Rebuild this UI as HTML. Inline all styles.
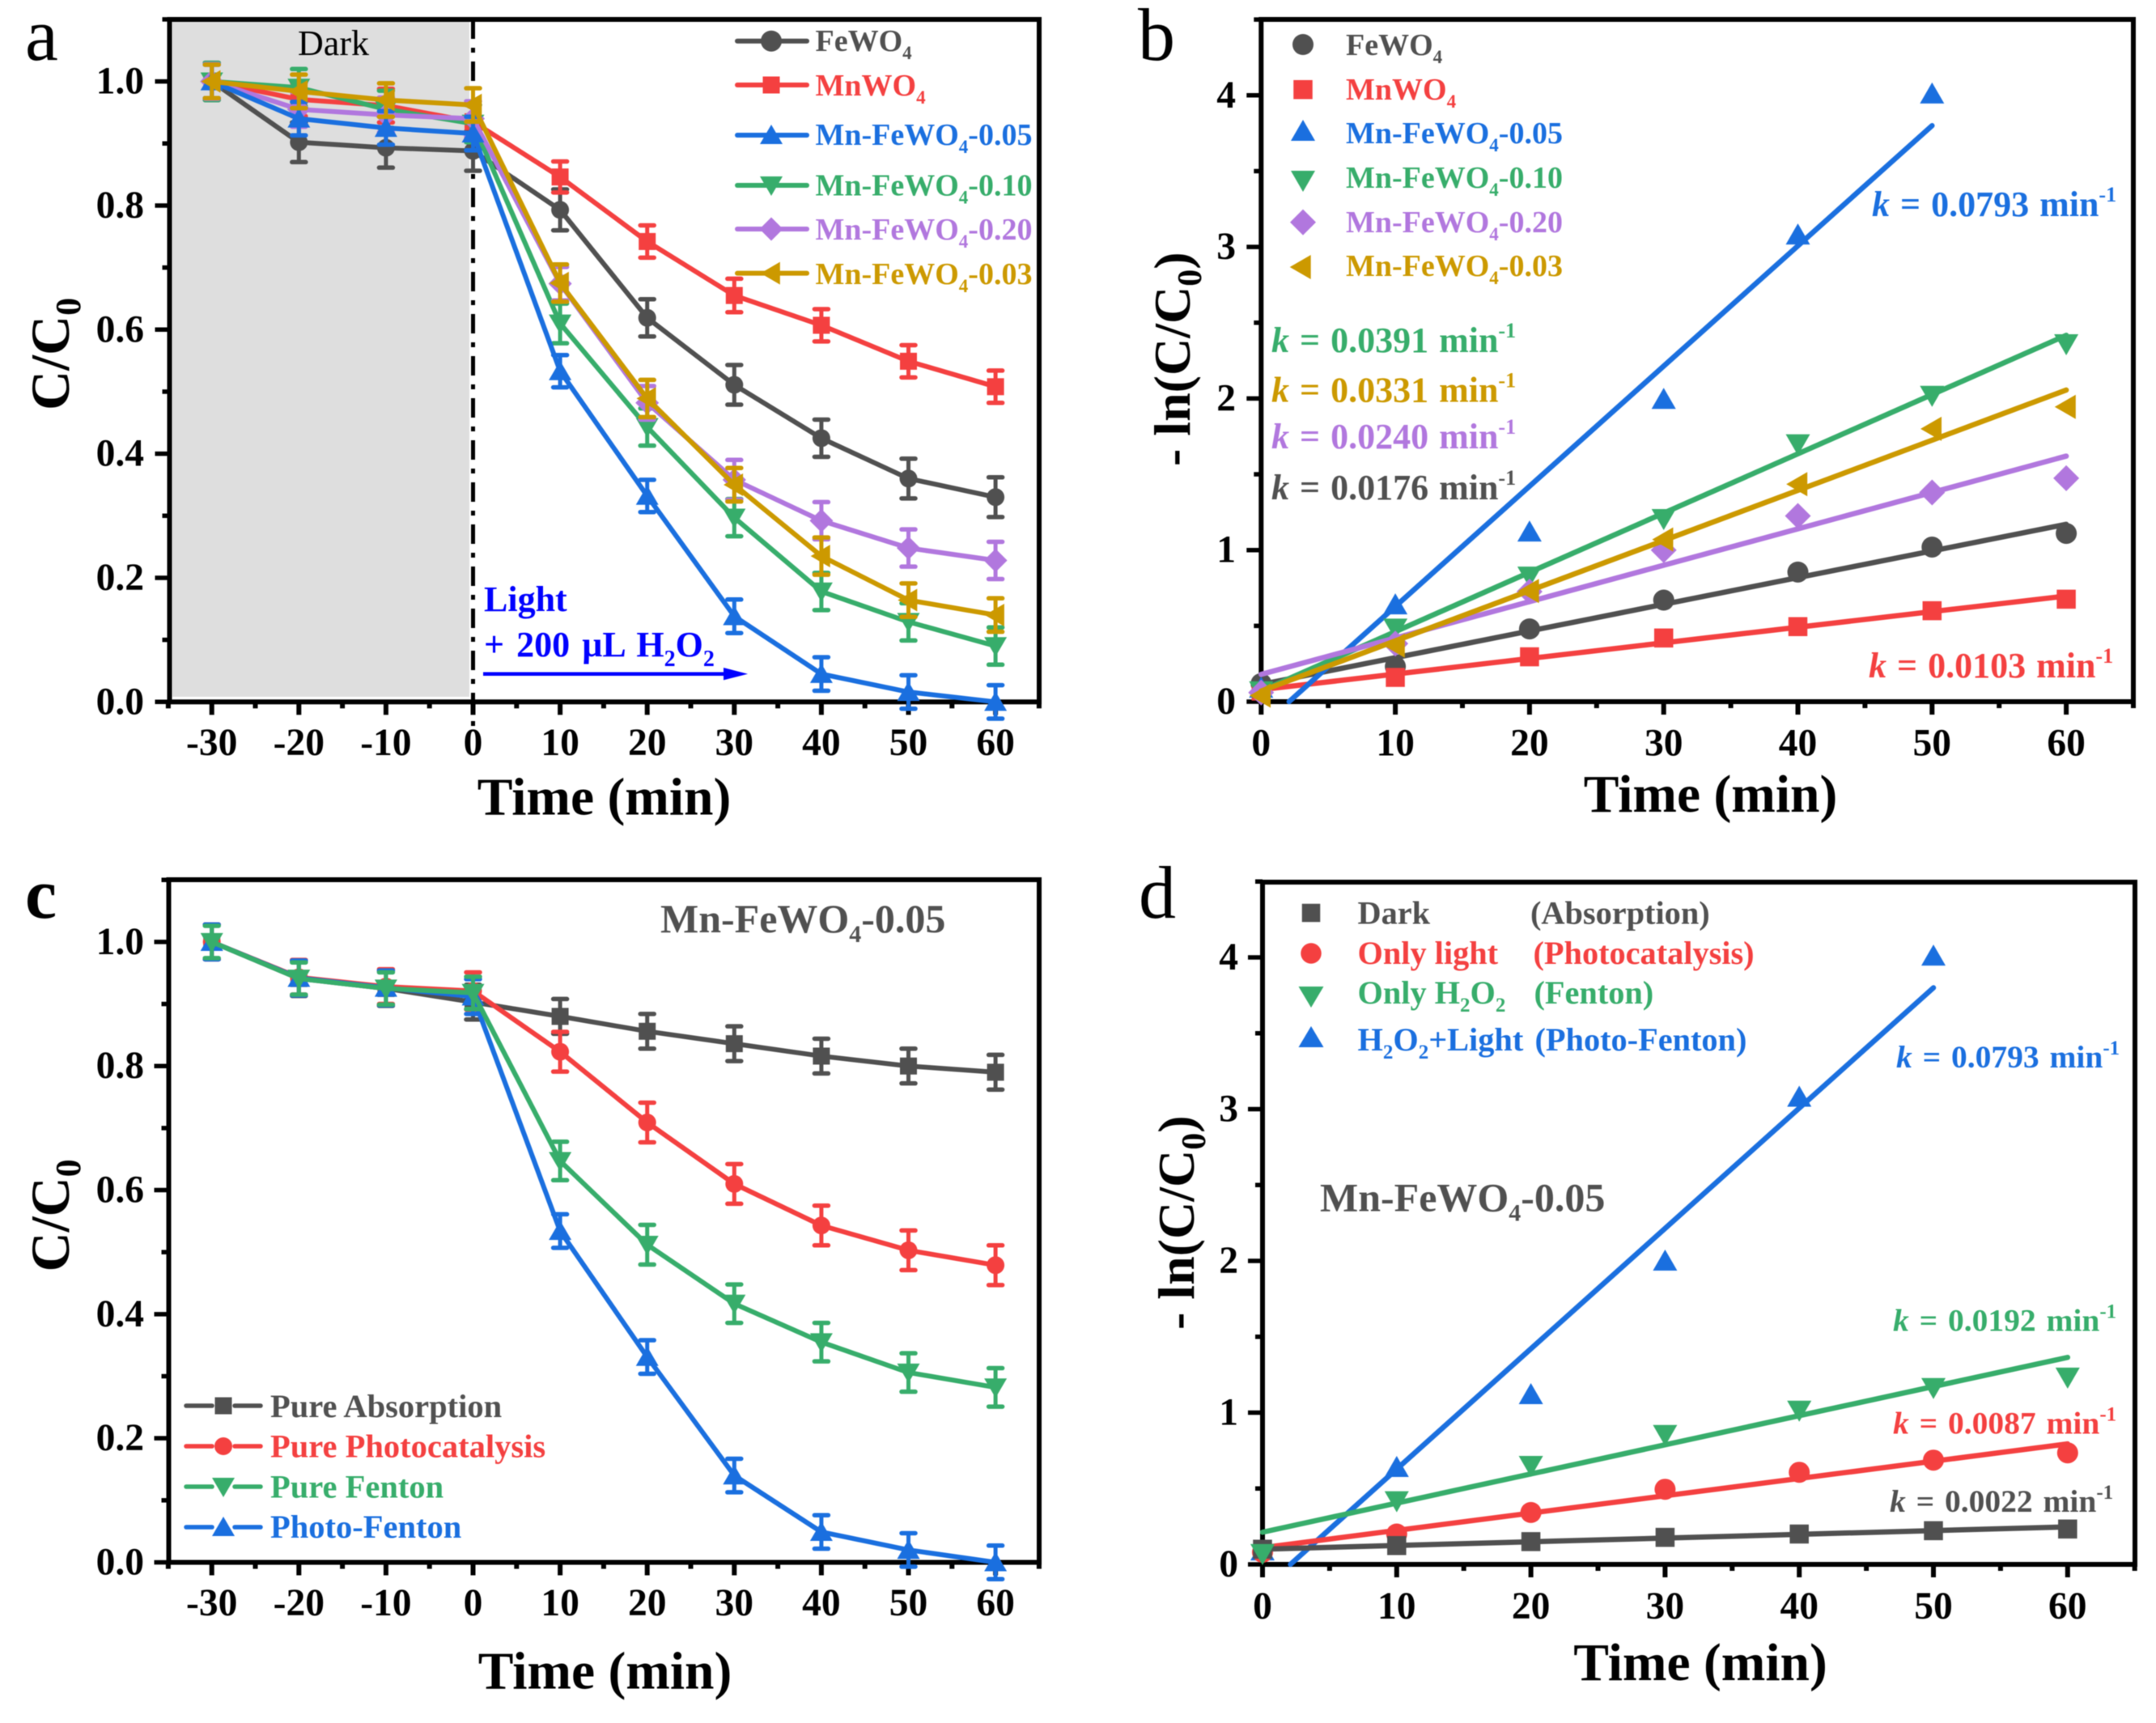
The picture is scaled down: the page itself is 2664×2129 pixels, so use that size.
<!DOCTYPE html>
<html lang="en">
<head>
<meta charset="utf-8">
<title>Photo-Fenton degradation kinetics</title>
<style>
html,body{margin:0;padding:0;background:#fff;}
svg{display:block;filter:blur(0.6px);}
text{font-family:"Liberation Serif",serif;}
.b{font-weight:700;}
.bi{font-weight:700;font-style:italic;}
</style>
</head>
<body>
<svg id="figure" xmlns="http://www.w3.org/2000/svg" width="2664" height="2129" viewBox="0 0 2664 2129">
<rect x="0" y="0" width="2664" height="2129" fill="#fff"/>

<rect x="213" y="27" width="367" height="834" fill="#dedede"/>

<g id="panel-a"></g>
<g id="panel-b"></g>
<g id="panel-c"></g>
<g id="panel-d"></g>

<!-- Panel letters -->
<text x="31" y="74" font-size="92">a</text>
<text x="1406" y="74" font-size="92">b</text>
<text x="31" y="1134" font-size="88" class="b">c</text>
<text x="1407" y="1134" font-size="92">d</text>

<!-- Panel a text -->
<text x="412" y="68" font-size="44" text-anchor="middle">Dark</text>
<text x="598" y="755" font-size="44" class="b" fill="#0000ff">Light</text>
<text x="598" y="811" font-size="44" class="b" fill="#0000ff" word-spacing="4">+ 200 µL H<tspan dy="12" font-size="28">2</tspan><tspan dy="-12">O</tspan><tspan dy="12" font-size="28">2</tspan></text>
<line x1="597" y1="832.7" x2="897" y2="832.7" stroke="#0000ff" stroke-width="4.5"/>
<polygon points="894,825 924,832.7 894,840.4" fill="#0000ff"/>
<text x="746.5" y="1006.7" font-size="65.5" class="b" text-anchor="middle">Time (min)</text>
<text transform="translate(85,507) rotate(-90)" font-size="68" class="b">C/C<tspan dy="14" font-size="44">0</tspan></text>

<g font-size="38" class="b">
<text x="1007.5" y="63" fill="#505050">FeWO<tspan dy="10" font-size="23">4</tspan></text>
<text x="1007.5" y="118" fill="#f44040">MnWO<tspan dy="10" font-size="23">4</tspan></text>
<text x="1007.5" y="179" fill="#1a6fdf">Mn-FeWO<tspan dy="10" font-size="23">4</tspan><tspan dy="-10">-0.05</tspan></text>
<text x="1007.5" y="241.5" fill="#37ad6b">Mn-FeWO<tspan dy="10" font-size="23">4</tspan><tspan dy="-10">-0.10</tspan></text>
<text x="1007.5" y="296" fill="#b177de">Mn-FeWO<tspan dy="10" font-size="23">4</tspan><tspan dy="-10">-0.20</tspan></text>
<text x="1007.5" y="351" fill="#cc9900">Mn-FeWO<tspan dy="10" font-size="23">4</tspan><tspan dy="-10">-0.03</tspan></text>
</g>

<!-- Panel b text -->
<text x="2113.5" y="1003" font-size="65.5" class="b" text-anchor="middle">Time (min)</text>
<text transform="translate(1470,576) rotate(-90)" font-size="64" class="b">- ln(C/C<tspan dy="14" font-size="42">0</tspan><tspan dy="-14">)</tspan></text>
<g font-size="38" class="b">
<text x="1663" y="68" fill="#505050">FeWO<tspan dy="10" font-size="23">4</tspan></text>
<text x="1663" y="123" fill="#f44040">MnWO<tspan dy="10" font-size="23">4</tspan></text>
<text x="1663" y="177" fill="#1a6fdf">Mn-FeWO<tspan dy="10" font-size="23">4</tspan><tspan dy="-10">-0.05</tspan></text>
<text x="1663" y="232" fill="#37ad6b">Mn-FeWO<tspan dy="10" font-size="23">4</tspan><tspan dy="-10">-0.10</tspan></text>
<text x="1663" y="287" fill="#b177de">Mn-FeWO<tspan dy="10" font-size="23">4</tspan><tspan dy="-10">-0.20</tspan></text>
<text x="1663" y="341" fill="#cc9900">Mn-FeWO<tspan dy="10" font-size="23">4</tspan><tspan dy="-10">-0.03</tspan></text>
</g>
<g font-size="44" class="b" word-spacing="2">
<text x="2313" y="267" fill="#1a6fdf"><tspan class="bi">k</tspan> = 0.0793 min<tspan dy="-18" font-size="26">-1</tspan></text>
<text x="1571" y="435" fill="#37ad6b"><tspan class="bi">k</tspan> = 0.0391 min<tspan dy="-18" font-size="26">-1</tspan></text>
<text x="1571" y="496.7" fill="#cc9900"><tspan class="bi">k</tspan> = 0.0331 min<tspan dy="-18" font-size="26">-1</tspan></text>
<text x="1571" y="554" fill="#b177de"><tspan class="bi">k</tspan> = 0.0240 min<tspan dy="-18" font-size="26">-1</tspan></text>
<text x="1571" y="617" fill="#505050"><tspan class="bi">k</tspan> = 0.0176 min<tspan dy="-18" font-size="26">-1</tspan></text>
<text x="2309" y="837" fill="#f44040"><tspan class="bi">k</tspan> = 0.0103 min<tspan dy="-18" font-size="26">-1</tspan></text>
</g>

<!-- Panel c text -->
<text x="816" y="1152" font-size="50" class="b" fill="#505050">Mn-FeWO<tspan dy="12" font-size="30">4</tspan><tspan dy="-12">-0.05</tspan></text>
<text x="747.5" y="2086.6" font-size="65.5" class="b" text-anchor="middle">Time (min)</text>
<text transform="translate(85,1571.5) rotate(-90)" font-size="68" class="b">C/C<tspan dy="14" font-size="44">0</tspan></text>
<g font-size="40.5" class="b">
<text x="334" y="1751" fill="#505050">Pure Absorption</text>
<text x="334" y="1800.7" fill="#f44040">Pure Photocatalysis</text>
<text x="334" y="1850.7" fill="#37ad6b">Pure Fenton</text>
<text x="334" y="1900" fill="#1a6fdf">Photo-Fenton</text>
</g>

<!-- Panel d text -->
<text x="1631" y="1496.5" font-size="50" class="b" fill="#505050">Mn-FeWO<tspan dy="12" font-size="30">4</tspan><tspan dy="-12">-0.05</tspan></text>
<text x="2101" y="2076" font-size="65.5" class="b" text-anchor="middle">Time (min)</text>
<text transform="translate(1475,1643) rotate(-90)" font-size="64" class="b">- ln(C/C<tspan dy="14" font-size="42">0</tspan><tspan dy="-14">)</tspan></text>
<g font-size="40.3" class="b">
<text x="1677.5" y="1141.7" fill="#505050">Dark</text>
<text x="1891" y="1141.7" fill="#505050">(Absorption)</text>
<text x="1677.5" y="1191" fill="#f44040">Only light</text>
<text x="1894.5" y="1191" fill="#f44040">(Photocatalysis)</text>
<text x="1677.5" y="1240" fill="#37ad6b">Only H<tspan dy="10" font-size="25">2</tspan><tspan dy="-10">O</tspan><tspan dy="10" font-size="25">2</tspan></text>
<text x="1895.5" y="1240" fill="#37ad6b">(Fenton)</text>
<text x="1677.5" y="1298" fill="#1a6fdf">H<tspan dy="10" font-size="25">2</tspan><tspan dy="-10">O</tspan><tspan dy="10" font-size="25">2</tspan><tspan dy="-10">+Light</tspan></text>
<text x="1896.5" y="1298" fill="#1a6fdf">(Photo-Fenton)</text>
</g>
<g font-size="39.5" class="b" word-spacing="3">
<text x="2343" y="1319" fill="#1a6fdf"><tspan class="bi">k</tspan> = 0.0793 min<tspan dy="-16" font-size="25">-1</tspan></text>
<text x="2339" y="1644.6" fill="#37ad6b"><tspan class="bi">k</tspan> = 0.0192 min<tspan dy="-16" font-size="25">-1</tspan></text>
<text x="2339" y="1771.5" fill="#f44040"><tspan class="bi">k</tspan> = 0.0087 min<tspan dy="-16" font-size="25">-1</tspan></text>
<text x="2335" y="1868" fill="#505050"><tspan class="bi">k</tspan> = 0.0022 min<tspan dy="-16" font-size="25">-1</tspan></text>
</g>
</svg>

<script>
/* ---------- Shared tick values ---------- */
const concXTicks = [-30, -20, -10, 0, 10, 20, 30, 40, 50, 60];
const concXMinor = [-35, -25, -15, -5, 5, 15, 25, 35, 45, 55, 65];
const concYTicks = [0, 0.2, 0.4, 0.6, 0.8, 1.0];
const concYLabels = ['0.0', '0.2', '0.4', '0.6', '0.8', '1.0'];
const concYMinor = [0.1, 0.3, 0.5, 0.7, 0.9, 1.1];
const kinXTicks = [0, 10, 20, 30, 40, 50, 60];
const kinXMinor = [5, 15, 25, 35, 45, 55, 65];
const kinYTicks = [0, 1, 2, 3, 4];
const kinYMinor = [0.5, 1.5, 2.5, 3.5, 4.5];

/* ---------- Panel a data: C/C0 ---------- */
const aTimes = [-30, -20, -10, 0, 10, 20, 30, 40, 50, 60];
const aFeWO4 = [1.0, 0.902, 0.893, 0.888, 0.793, 0.619, 0.511, 0.425, 0.36, 0.33];
const aMnWO4 = [1.0, 0.971, 0.961, 0.935, 0.846, 0.742, 0.655, 0.607, 0.549, 0.508];
const aMn005 = [1.0, 0.94, 0.925, 0.916, 0.533, 0.332, 0.138, 0.045, 0.016, 0.0];
const aMn010 = [1.0, 0.99, 0.955, 0.932, 0.61, 0.443, 0.297, 0.178, 0.129, 0.09];
const aMn020 = [1.0, 0.955, 0.946, 0.94, 0.674, 0.482, 0.358, 0.292, 0.248, 0.228];
const aMn003 = [1.0, 0.984, 0.97, 0.962, 0.675, 0.489, 0.35, 0.235, 0.164, 0.14];
const aErrFeWO4 = [0.03, 0.032, 0.032, 0.032, 0.033, 0.03, 0.032, 0.03, 0.032, 0.032];
const aErrMnWO4 = [0.027, 0.027, 0.027, 0.027, 0.025, 0.026, 0.027, 0.026, 0.026, 0.026];
const aErrMn005 = [0.027, 0.027, 0.027, 0.027, 0.026, 0.026, 0.027, 0.027, 0.027, 0.027];
const aErrMn010 = [0.03, 0.03, 0.03, 0.03, 0.032, 0.03, 0.03, 0.03, 0.03, 0.03];
const aErrMn020 = [0.028, 0.028, 0.028, 0.028, 0.027, 0.027, 0.032, 0.03, 0.03, 0.03];
const aErrMn003 = [0.027, 0.027, 0.027, 0.027, 0.03, 0.03, 0.027, 0.03, 0.027, 0.027];

/* ---------- Panel b data: -ln(C/C0) ---------- */
const bTimes = [0, 10, 20, 30, 40, 50, 60];
const bFeWO4 = [0.119, 0.232, 0.48, 0.67, 0.855, 1.02, 1.11];
const bMnWO4 = [0.07, 0.16, 0.296, 0.42, 0.495, 0.6, 0.676];
const bMn005 = [0.09, 0.64, 1.12, 1.995, 3.08, 4.01, null];
const bMn010 = [0.07, 0.484, 0.827, 1.207, 1.7, 2.02, 2.36];
const bMn020 = [0.06, 0.383, 0.726, 1.0, 1.225, 1.38, 1.474];
const bMn003 = [0.04, 0.37, 0.73, 1.07, 1.435, 1.8, 1.945];
const bSlopes = [0.0176, 0.0103, 0.0793, 0.0391, 0.024, 0.0331];
const bIntercepts = [0.114, 0.079, -0.165, 0.071, 0.18, 0.07];
const bFitEnds = [60, 60, 50, 60, 60, 60];

/* ---------- Panel c data: C/C0 ---------- */
const cTimes = [-30, -20, -10, 0, 10, 20, 30, 40, 50, 60];
const cAbsorption = [1.0, 0.941, 0.925, 0.903, 0.88, 0.856, 0.836, 0.816, 0.8, 0.79];
const cPhotocatalysis = [1.0, 0.943, 0.928, 0.921, 0.823, 0.709, 0.61, 0.543, 0.503, 0.479];
const cFenton = [1.0, 0.941, 0.925, 0.918, 0.647, 0.512, 0.417, 0.355, 0.306, 0.282];
const cPhotoFenton = [1.0, 0.942, 0.926, 0.912, 0.534, 0.331, 0.14, 0.049, 0.02, 0.0];
const cErrAbsorption = [0.028, 0.028, 0.028, 0.028, 0.028, 0.028, 0.028, 0.028, 0.028, 0.028];
const cErrPhotocatalysis = [0.028, 0.028, 0.028, 0.03, 0.032, 0.032, 0.032, 0.032, 0.032, 0.032];
const cErrFenton = [0.026, 0.026, 0.026, 0.026, 0.031, 0.032, 0.031, 0.031, 0.031, 0.031];
const cErrPhotoFenton = [0.028, 0.028, 0.028, 0.028, 0.027, 0.027, 0.027, 0.027, 0.027, 0.027];

/* ---------- Panel d data: -ln(C/C0) ---------- */
const dTimes = [0, 10, 20, 30, 40, 50, 60];
const dDark = [0.1, 0.124, 0.15, 0.178, 0.2, 0.222, 0.233];
const dLight = [0.08, 0.2, 0.342, 0.495, 0.607, 0.687, 0.735];
const dFenton = [0.07, 0.418, 0.651, 0.855, 1.015, 1.164, 1.233];
const dPhotoFenton = [0.09, 0.64, 1.12, 2.0, 3.08, 4.01, null];
const dSlopes = [0.00245, 0.0114, 0.0793, 0.0192];
const dIntercepts = [0.1, 0.11, -0.165, 0.212];
const dFitEnds = [60, 60, 50, 60];

/* ---------- Styles ---------- */
const GRAY = '#505050', RED = '#f44040', BLUE = '#1a6fdf', GREEN = '#37ad6b', PURPLE = '#b177de', GOLD = '#cc9900';
const smallMarks = {circle: 22, square: 21, triW: 28, triH: 24, dia: 29, leftW: 24, leftH: 28};
const largeMarks = {circle: 26, square: 23.5, triW: 30, triH: 26, dia: 32, leftW: 26, leftH: 30};
const dLegendMarks = {circle: 25.5, square: 22.5, triW: 31, triH: 26, dia: 30, leftW: 24, leftH: 28};

const NS = 'http://www.w3.org/2000/svg';
function make(parent, tag, attrs) {
  const el = document.createElementNS(NS, tag);
  for (const k in attrs) el.setAttribute(k, attrs[k]);
  parent.appendChild(el);
  return el;
}

function scales(f) {
  return {
    x: v => f.x0 + f.xk * v,
    y: v => f.y0 - f.yk * v
  };
}

function drawMarker(parent, shape, x, y, color, m, label) {
  let el;
  if (shape === 'circle') {
    el = make(parent, 'circle', {cx: x, cy: y, r: m.circle / 2, fill: color});
  } else if (shape === 'square') {
    el = make(parent, 'rect', {x: x - m.square / 2, y: y - m.square / 2, width: m.square, height: m.square, fill: color});
  } else if (shape === 'up') {
    el = make(parent, 'polygon', {points: [x, y - m.triH * 0.54, x + m.triW / 2, y + m.triH * 0.46, x - m.triW / 2, y + m.triH * 0.46].join(','), fill: color});
  } else if (shape === 'down') {
    el = make(parent, 'polygon', {points: [x, y + m.triH * 0.54, x + m.triW / 2, y - m.triH * 0.46, x - m.triW / 2, y - m.triH * 0.46].join(','), fill: color});
  } else if (shape === 'diamond') {
    el = make(parent, 'polygon', {points: [x, y - m.dia / 2, x + m.dia / 2, y, x, y + m.dia / 2, x - m.dia / 2, y].join(','), fill: color});
  } else {
    el = make(parent, 'polygon', {points: [x - m.leftW * 0.55, y, x + m.leftW * 0.45, y - m.leftH / 2, x + m.leftW * 0.45, y + m.leftH / 2].join(','), fill: color});
  }
  
  
  return el;
}

function drawAxes(root, f, cfg) {
  const s = scales(f);
  const frame = make(root, 'rect', {x: f.left, y: f.top, width: f.right - f.left, height: f.bottom - f.top, fill: 'none', stroke: '#000', 'stroke-width': 6});
  
  
  cfg.xTicks.forEach(v => {
    const t = make(root, 'line', {x1: s.x(v), x2: s.x(v), y1: f.bottom, y2: f.bottom + 16, stroke: '#000', 'stroke-width': 6});
    
    
    const lab = make(root, 'text', {x: s.x(v), y: f.bottom + f.xLabelDy, 'font-size': 47.5, 'text-anchor': 'middle', class: 'b'});
    lab.textContent = String(v);
    
    
  });
  cfg.xMinor.forEach(v => {
    const t = make(root, 'line', {x1: s.x(v), x2: s.x(v), y1: f.bottom, y2: f.bottom + 8, stroke: '#000', 'stroke-width': 6});
    
    
  });
  cfg.yTicks.forEach((v, i) => {
    const t = make(root, 'line', {x1: f.left - 18, x2: f.left, y1: s.y(v), y2: s.y(v), stroke: '#000', 'stroke-width': 5.5});
    
    
    const lab = make(root, 'text', {x: f.yLabelX, y: s.y(v) + 15, 'font-size': 47.5, 'text-anchor': 'end', class: 'b'});
    lab.textContent = cfg.yLabels ? cfg.yLabels[i] : String(v);
    
    
  });
  cfg.yMinor.forEach(v => {
    const t = make(root, 'line', {x1: f.left - 9, x2: f.left, y1: s.y(v), y2: s.y(v), stroke: '#000', 'stroke-width': 5.5});
    
    
  });
}

function drawConcSeries(root, f, times, values, errs, color, shape, name) {
  const s = scales(f);
  const g = make(root, 'g', {});
  
  
  const pts = times.map((t, i) => s.x(t) + ',' + s.y(values[i])).join(' ');
  const line = make(g, 'polyline', {points: pts, fill: 'none', stroke: color, 'stroke-width': 6, 'stroke-linejoin': 'round', 'stroke-linecap': 'round'});
  
  
  times.forEach((t, i) => {
    const x = s.x(t), hi = s.y(values[i] + errs[i]), lo = s.y(values[i] - errs[i]);
    const stem = make(g, 'line', {x1: x, x2: x, y1: hi, y2: lo, stroke: color, 'stroke-width': 5});
    
    
    const capTop = make(g, 'line', {x1: x - 8.5, x2: x + 8.5, y1: hi, y2: hi, stroke: color, 'stroke-width': 5.5, 'stroke-linecap': 'round'});
    
    
    const capLow = make(g, 'line', {x1: x - 8.5, x2: x + 8.5, y1: lo, y2: lo, stroke: color, 'stroke-width': 5.5, 'stroke-linecap': 'round'});
    
    
    drawMarker(g, shape, x, s.y(values[i]), color, smallMarks, 'point-' + name);
  });
}

function drawKinSeries(root, f, times, values, slope, intercept, fitEnd, color, shape, name) {
  const s = scales(f);
  const g = make(root, 'g', {});
  
  
  times.forEach((t, i) => {
    if (values[i] === null) return;
    drawMarker(g, shape, s.x(t), s.y(values[i]), color, largeMarks, 'point-' + name);
  });
  const start = Math.max(0, -intercept / slope);
  const fit = make(g, 'line', {x1: s.x(start), y1: s.y(slope * start + intercept), x2: s.x(fitEnd), y2: s.y(slope * fitEnd + intercept), stroke: color, 'stroke-width': 6.5, 'stroke-linecap': 'round'});
  
  
}

function legendLine(root, x1, x2, y, color, name, gapFrom, gapTo) {
  if (gapFrom === undefined) {
    const l = make(root, 'line', {x1: x1, x2: x2, y1: y, y2: y, stroke: color, 'stroke-width': 6, 'stroke-linecap': 'round'});
    
    
  } else {
    const l1 = make(root, 'line', {x1: x1, x2: gapFrom, y1: y, y2: y, stroke: color, 'stroke-width': 5.5, 'stroke-linecap': 'round'});
    
    
    const l2 = make(root, 'line', {x1: gapTo, x2: x2, y1: y, y2: y, stroke: color, 'stroke-width': 5.5, 'stroke-linecap': 'round'});
    
    
  }
}

/* ---------- Frames ---------- */
const frameA = {id: 'a', left: 209.5, right: 1284, top: 24, bottom: 867.3, x0: 584.5, xk: 10.76, y0: 867.3, yk: 766.7, xLabelDy: 65.7, yLabelX: 178};
const frameB = {id: 'b', left: 1558.3, right: 2636, top: 24, bottom: 867, x0: 1558.3, xk: 16.58, y0: 867, yk: 187.3, xLabelDy: 66.7, yLabelX: 1527};
const frameC = {id: 'c', left: 208.5, right: 1284, top: 1087, bottom: 1930.5, x0: 584.5, xk: 10.76, y0: 1930.5, yk: 766.6, xLabelDy: 65.5, yLabelX: 178};
const frameD = {id: 'd', left: 1560, right: 2638, top: 1090, bottom: 1933, x0: 1560, xk: 16.58, y0: 1933, yk: 187.5, xLabelDy: 67, yLabelX: 1530};

/* ---------- Panel a ---------- */
const pa = document.getElementById('panel-a');
drawAxes(pa, frameA, {xTicks: concXTicks, xMinor: concXMinor, yTicks: concYTicks, yLabels: concYLabels, yMinor: concYMinor});
const divider = make(pa, 'line', {x1: 584.5, x2: 584.5, y1: 24, y2: 907, stroke: '#000', 'stroke-width': 5, 'stroke-dasharray': '24 11 6 11'});


drawConcSeries(pa, frameA, aTimes, aFeWO4, aErrFeWO4, GRAY, 'circle', 'a-fewo4');
drawConcSeries(pa, frameA, aTimes, aMnWO4, aErrMnWO4, RED, 'square', 'a-mnwo4');
drawConcSeries(pa, frameA, aTimes, aMn010, aErrMn010, GREEN, 'down', 'a-mn-fewo4-010');
drawConcSeries(pa, frameA, aTimes, aMn020, aErrMn020, PURPLE, 'diamond', 'a-mn-fewo4-020');
drawConcSeries(pa, frameA, aTimes, aMn005, aErrMn005, BLUE, 'up', 'a-mn-fewo4-005');
drawConcSeries(pa, frameA, aTimes, aMn003, aErrMn003, GOLD, 'left', 'a-mn-fewo4-003');

legendLine(pa, 911, 997, 50.7, GRAY, 'a-fewo4');
drawMarker(pa, 'circle', 953, 50.7, GRAY, largeMarks, 'legend-marker-a-fewo4');
legendLine(pa, 911, 997, 105, RED, 'a-mnwo4');
drawMarker(pa, 'square', 953, 105, RED, smallMarks, 'legend-marker-a-mnwo4');
legendLine(pa, 911, 997, 167, BLUE, 'a-005');
drawMarker(pa, 'up', 953, 167, BLUE, smallMarks, 'legend-marker-a-005');
legendLine(pa, 911, 997, 229, GREEN, 'a-010');
drawMarker(pa, 'down', 953, 229, GREEN, smallMarks, 'legend-marker-a-010');
legendLine(pa, 911, 997, 283, PURPLE, 'a-020');
drawMarker(pa, 'diamond', 953, 283, PURPLE, smallMarks, 'legend-marker-a-020');
legendLine(pa, 911, 997, 337.6, GOLD, 'a-003');
drawMarker(pa, 'left', 953, 337.6, GOLD, smallMarks, 'legend-marker-a-003');

/* ---------- Panel b ---------- */
const pb = document.getElementById('panel-b');
drawAxes(pb, frameB, {xTicks: kinXTicks, xMinor: kinXMinor, yTicks: kinYTicks, yMinor: kinYMinor});
drawKinSeries(pb, frameB, bTimes, bFeWO4, bSlopes[0], bIntercepts[0], bFitEnds[0], GRAY, 'circle', 'b-fewo4');
drawKinSeries(pb, frameB, bTimes, bMnWO4, bSlopes[1], bIntercepts[1], bFitEnds[1], RED, 'square', 'b-mnwo4');
drawKinSeries(pb, frameB, bTimes, bMn005, bSlopes[2], bIntercepts[2], bFitEnds[2], BLUE, 'up', 'b-mn-fewo4-005');
drawKinSeries(pb, frameB, bTimes, bMn010, bSlopes[3], bIntercepts[3], bFitEnds[3], GREEN, 'down', 'b-mn-fewo4-010');
drawKinSeries(pb, frameB, bTimes, bMn020, bSlopes[4], bIntercepts[4], bFitEnds[4], PURPLE, 'diamond', 'b-mn-fewo4-020');
drawKinSeries(pb, frameB, bTimes, bMn003, bSlopes[5], bIntercepts[5], bFitEnds[5], GOLD, 'left', 'b-mn-fewo4-003');

drawMarker(pb, 'circle', 1610, 55, GRAY, largeMarks, 'legend-marker-b-fewo4');
drawMarker(pb, 'square', 1610, 110.7, RED, largeMarks, 'legend-marker-b-mnwo4');
drawMarker(pb, 'up', 1610, 162, BLUE, largeMarks, 'legend-marker-b-005');
drawMarker(pb, 'down', 1610, 223, GREEN, largeMarks, 'legend-marker-b-010');
drawMarker(pb, 'diamond', 1610, 274.6, PURPLE, largeMarks, 'legend-marker-b-020');
drawMarker(pb, 'left', 1608, 330, GOLD, largeMarks, 'legend-marker-b-003');

/* ---------- Panel c ---------- */
const pc = document.getElementById('panel-c');
drawAxes(pc, frameC, {xTicks: concXTicks, xMinor: concXMinor, yTicks: concYTicks, yLabels: concYLabels, yMinor: concYMinor});
drawConcSeries(pc, frameC, cTimes, cAbsorption, cErrAbsorption, GRAY, 'square', 'c-absorption');
drawConcSeries(pc, frameC, cTimes, cPhotocatalysis, cErrPhotocatalysis, RED, 'circle', 'c-photocatalysis');
drawConcSeries(pc, frameC, cTimes, cPhotoFenton, cErrPhotoFenton, BLUE, 'up', 'c-photo-fenton');
drawConcSeries(pc, frameC, cTimes, cFenton, cErrFenton, GREEN, 'down', 'c-fenton');

legendLine(pc, 230, 322, 1737, GRAY, 'c-absorption', 262, 290);
drawMarker(pc, 'square', 276, 1737, GRAY, smallMarks, 'legend-marker-c-absorption');
legendLine(pc, 230, 322, 1787, RED, 'c-photocatalysis', 262, 290);
drawMarker(pc, 'circle', 276, 1787, RED, smallMarks, 'legend-marker-c-photocatalysis');
legendLine(pc, 230, 322, 1837, GREEN, 'c-fenton', 262, 290);
drawMarker(pc, 'down', 276, 1837, GREEN, smallMarks, 'legend-marker-c-fenton');
legendLine(pc, 230, 322, 1887, BLUE, 'c-photo-fenton', 262, 290);
drawMarker(pc, 'up', 276, 1887, BLUE, smallMarks, 'legend-marker-c-photo-fenton');

/* ---------- Panel d ---------- */
const pd = document.getElementById('panel-d');
drawAxes(pd, frameD, {xTicks: kinXTicks, xMinor: kinXMinor, yTicks: kinYTicks, yMinor: kinYMinor});
drawKinSeries(pd, frameD, dTimes, dPhotoFenton, dSlopes[2], dIntercepts[2], dFitEnds[2], BLUE, 'up', 'd-photo-fenton');
drawKinSeries(pd, frameD, dTimes, dLight, dSlopes[1], dIntercepts[1], dFitEnds[1], RED, 'circle', 'd-light');
drawKinSeries(pd, frameD, dTimes, dDark, dSlopes[0], dIntercepts[0], dFitEnds[0], GRAY, 'square', 'd-dark');
drawKinSeries(pd, frameD, dTimes, dFenton, dSlopes[3], dIntercepts[3], dFitEnds[3], GREEN, 'down', 'd-fenton');

drawMarker(pd, 'square', 1620, 1128, GRAY, dLegendMarks, 'legend-marker-d-dark');
drawMarker(pd, 'circle', 1620, 1178, RED, dLegendMarks, 'legend-marker-d-light');
drawMarker(pd, 'down', 1620, 1231, GREEN, dLegendMarks, 'legend-marker-d-fenton');
drawMarker(pd, 'up', 1620, 1282, BLUE, dLegendMarks, 'legend-marker-d-photo-fenton');
</script>
</body>
</html>
